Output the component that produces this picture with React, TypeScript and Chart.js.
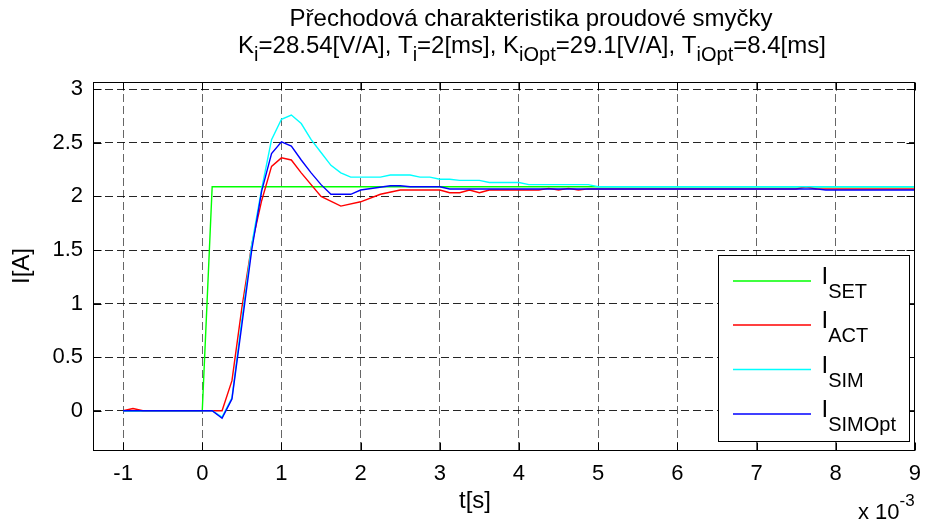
import React, { useEffect, useRef } from 'react';
import { Chart, registerables } from 'chart.js';

Chart.register(...registerables);

// time in ms (axis shows x 10^-3 s)
const T_SET = [-1, 0, 0.125, 9];
const I_SET = [0, 0, 2.09, 2.09];

const T_ACT = [-1, -0.875, -0.75, 0.125, 0.25, 0.375, 0.5, 0.625, 0.75, 0.875, 1.0, 1.125, 1.25, 1.5, 1.75, 2.0, 2.25, 2.5, 3.0, 3.125, 3.25, 3.375, 3.5, 3.625, 4.25, 4.375, 4.5, 4.625, 4.75, 4.875, 5.0, 7.5, 7.625, 7.75, 9];
const I_ACT = [0, 0.02, 0, 0, 0, 0.28, 0.96, 1.55, 1.96, 2.28, 2.36, 2.34, 2.22, 2.0, 1.91, 1.95, 2.02, 2.06, 2.06, 2.035, 2.035, 2.06, 2.035, 2.06, 2.06, 2.075, 2.06, 2.075, 2.06, 2.07, 2.07, 2.07, 2.09, 2.07, 2.07];

const T_SIM = [-1, 0.125, 0.25, 0.375, 0.5, 0.625, 0.75, 0.875, 1.0, 1.125, 1.25, 1.375, 1.5, 1.625, 1.75, 1.875, 2.25, 2.375, 2.625, 2.75, 2.875, 3.0, 3.125, 3.25, 3.5, 3.625, 4.0, 4.125, 4.875, 5.0, 9];
const I_SIM = [0, 0, -0.06, 0.12, 0.85, 1.55, 2.07, 2.53, 2.72, 2.76, 2.68, 2.53, 2.41, 2.29, 2.22, 2.18, 2.18, 2.2, 2.2, 2.18, 2.18, 2.16, 2.16, 2.15, 2.15, 2.13, 2.13, 2.11, 2.11, 2.09, 2.09];

const T_OPT = [-1, 0.125, 0.25, 0.375, 0.5, 0.625, 0.75, 0.875, 1.0, 1.125, 1.25, 1.375, 1.5, 1.625, 1.875, 2.0, 2.375, 2.5, 2.625, 3.0, 3.125, 7.75, 7.875, 9];
const I_OPT = [0, 0, -0.07, 0.11, 0.8, 1.5, 2.05, 2.4, 2.51, 2.47, 2.34, 2.22, 2.11, 2.02, 2.02, 2.06, 2.1, 2.1, 2.09, 2.09, 2.07, 2.07, 2.06, 2.06];

const X_TICKS = [-1, 0, 1, 2, 3, 4, 5, 6, 7, 8, 9];
const Y_TICKS = [0, 0.5, 1, 1.5, 2, 2.5, 3];
const Y_TICK_LABELS = ['0', '0.5', '1', '1.5', '2', '2.5', '3'];
const X_TICK_LABELS = ['-1', '0', '1', '2', '3', '4', '5', '6', '7', '8', '9'];

const SERIES_NAMES = ['SET', 'ACT', 'SIM', 'SIMOpt'];
const SERIES_COLORS = ['#00ff00', '#ff0000', '#00ffff', '#0000ff'];

const FONT = '"Liberation Sans", Arial, Helvetica, sans-serif';

type Part = [string, number]; // 0 normal, 1 sub, 2 sup

function drawRich(ctx: CanvasRenderingContext2D, parts: Part[], x: number, y: number, align: 'left' | 'center', main: number, small: number, subOff: number, supOff: number) {
  let total = 0;
  const widths: number[] = [];
  for (const [t, k] of parts) {
    ctx.font = `${k === 0 ? main : small}px ${FONT}`;
    const w = ctx.measureText(t).width;
    widths.push(w);
    total += w;
  }
  let cx = align === 'center' ? x - total / 2 : x;
  ctx.textAlign = 'left';
  ctx.textBaseline = 'alphabetic';
  parts.forEach(([t, k], i) => {
    ctx.font = `${k === 0 ? main : small}px ${FONT}`;
    const dy = k === 1 ? subOff : k === 2 ? -supOff : 0;
    ctx.fillText(t, cx, y + dy);
    cx += widths[i];
  });
}

const decorPlugin = {
  id: 'decor',
  afterDraw(chart: any) {
    const ctx: CanvasRenderingContext2D = chart.ctx;
    const { left, right, top, bottom } = chart.chartArea;
    const xs = chart.scales.x;
    const ys = chart.scales.y;
    ctx.save();
    ctx.strokeStyle = '#000';
    ctx.lineWidth = 1;
    ctx.setLineDash([]);
    const L = Math.round(left) + 0.5, R = Math.round(right) - 0.5, T = Math.round(top) + 0.5, B = Math.round(bottom) - 0.5;
    ctx.strokeRect(L, T, R - L, B - T);
    const tl = 8;
    ctx.beginPath();
    X_TICKS.forEach((v) => {
      const px = Math.round(xs.getPixelForValue(v)) + 0.5;
      ctx.moveTo(px, B); ctx.lineTo(px, B - tl);
      ctx.moveTo(px, T); ctx.lineTo(px, T + tl);
    });
    Y_TICKS.forEach((v) => {
      const py = Math.round(ys.getPixelForValue(v)) + 0.5;
      ctx.moveTo(L, py); ctx.lineTo(L + tl, py);
      ctx.moveTo(R, py); ctx.lineTo(R - tl, py);
    });
    ctx.stroke();

    // legend
    const lx = 718.5, ly = 255.5, lw = 191, lh = 186;
    ctx.fillStyle = '#fff';
    ctx.fillRect(lx, ly, lw, lh);
    ctx.strokeStyle = '#000';
    ctx.strokeRect(lx, ly, lw, lh);
    const rowY = [281, 325, 369.5, 414];
    SERIES_NAMES.forEach((name, i) => {
      ctx.save();
      ctx.strokeStyle = SERIES_COLORS[i];
      ctx.lineWidth = 1.5;
      ctx.beginPath();
      ctx.moveTo(733, rowY[i]);
      ctx.lineTo(811, rowY[i]);
      ctx.stroke();
      ctx.restore();
      ctx.fillStyle = '#000';
      drawRich(ctx, [['I', 0], [name, 1]], 821.5, rowY[i] + 3, 'left', 24, 20, 14, 0);
    });

    // titles
    ctx.fillStyle = '#000';
    drawRich(ctx, [['Přechodová charakteristika proudové smyčky', 0]], 531, 26, 'center', 24, 20, 8, 0);
    drawRich(ctx, [
      ['K', 0], ['i', 1], ['=28.54[V/A], T', 0], ['i', 1], ['=2[ms], K', 0], ['iOpt', 1],
      ['=29.1[V/A], T', 0], ['iOpt', 1], ['=8.4[ms]', 0],
    ], 532, 53, 'center', 24, 20, 8, 0);

    // axis labels
    drawRich(ctx, [['t[s]', 0]], 475, 508, 'center', 24, 20, 8, 0);
    drawRich(ctx, [['x 10', 0], ['-3', 2]], 858, 519, 'left', 22, 17, 0, 13);
    ctx.save();
    ctx.translate(29, 266);
    ctx.rotate(-Math.PI / 2);
    drawRich(ctx, [['I[A]', 0]], 0, 0, 'center', 24, 20, 8, 0);
    ctx.restore();
    ctx.restore();
  },
};

export default function App() {
  const ref = useRef<HTMLCanvasElement | null>(null);
  useEffect(() => {
    if (!ref.current) return;
    const mk = (t: number[], v: number[]) => t.map((x, i) => ({ x, y: v[i] }));
    const sets = [mk(T_SET, I_SET), mk(T_ACT, I_ACT), mk(T_SIM, I_SIM), mk(T_OPT, I_OPT)];
    const chart = new Chart(ref.current, {
      type: 'line',
      data: {
        datasets: sets.map((d, i) => ({
          label: 'I' + SERIES_NAMES[i],
          data: d,
          borderColor: SERIES_COLORS[i],
          backgroundColor: SERIES_COLORS[i],
          borderWidth: 1.4,
          pointRadius: 0,
          tension: 0,
          fill: false,
          order: 3 - i,
        })),
      },
      options: {
        animation: false,
        responsive: false,
        devicePixelRatio: 1,
        parsing: false,
        layout: { padding: { top: 82, right: 9, left: 0, bottom: 0 } },
        plugins: { legend: { display: false }, title: { display: false }, tooltip: { enabled: false } },
        events: [],
        scales: {
          x: {
            type: 'linear',
            min: -1.38,
            max: 9,
            afterFit: (s: any) => { s.height = 73; },
            afterBuildTicks: (s: any) => { s.ticks = X_TICKS.map((v) => ({ value: v })); },
            ticks: {
              autoSkip: false,
              maxRotation: 0,
              padding: 10,
              color: '#000',
              font: { family: FONT, size: 22 },
              callback: (v: any) => X_TICK_LABELS[X_TICKS.indexOf(Number(v))] ?? '',
            },
            grid: { color: 'rgba(0,0,0,0.6)', lineWidth: 1, drawTicks: false },
            border: { display: false, dash: [8, 4] },
          },
          y: {
            type: 'linear',
            min: -0.376,
            max: 3.068,
            afterFit: (s: any) => { s.width = 93; },
            afterBuildTicks: (s: any) => { s.ticks = Y_TICKS.map((v) => ({ value: v })); },
            ticks: {
              autoSkip: false,
              padding: 10,
              color: '#000',
              font: { family: FONT, size: 22 },
              callback: (v: any) => Y_TICK_LABELS[Y_TICKS.indexOf(Number(v))] ?? '',
            },
            grid: { color: 'rgba(0,0,0,0.85)', lineWidth: 1, drawTicks: false },
            border: { display: false, dash: [8, 4] },
          },
        },
      },
      plugins: [decorPlugin],
    } as any);
    return () => chart.destroy();
  }, []);
  return (
    <div style={{ position: 'fixed', left: 0, top: 0, width: 931, height: 524, background: '#fff' }}>
      <canvas ref={ref} width={931} height={524} style={{ width: 931, height: 524, display: 'block' }} />
    </div>
  );
}
